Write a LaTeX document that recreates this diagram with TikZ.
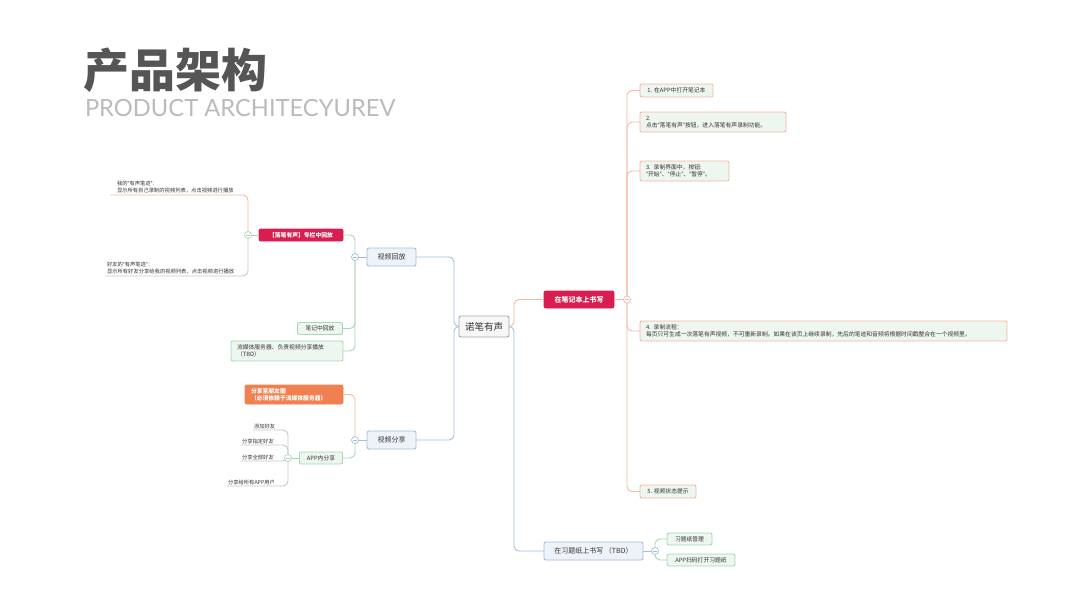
\documentclass[tikz,border=0pt]{standalone}
\usepackage{fontspec}
\setmainfont{Noto Sans CJK SC}
\newfontfamily\latofont{Lato}
\newcommand\qlq{{\latofont “}}
\newcommand\qrq{{\latofont ”}}
\definecolor{crim}{HTML}{D81E50}
\definecolor{orf}{HTML}{F0804F}
\definecolor{orl}{HTML}{F6B9A2}
\definecolor{grl}{HTML}{A9D7B4}
\definecolor{grf}{HTML}{EEF6F0}
\definecolor{bll}{HTML}{A4BEE0}
\definecolor{blf}{HTML}{EEF3FA}
\definecolor{gyl}{HTML}{C8C8C8}
\definecolor{txt}{HTML}{333333}
\definecolor{ttl}{HTML}{555555}
\definecolor{subt}{HTML}{BBBBBB}
\begin{document}
\begin{tikzpicture}[x=1pt,y=-1pt,
  every node/.style={inner sep=0pt, outer sep=0pt, text=txt},
  conn/.style={line width=0.9pt, rounded corners=5pt},
  box/.style={rounded corners=2pt, line width=0.9pt, align=left},
  fa/.style={font=\fontsize{5.8}{7.4}\selectfont},
  fb/.style={font=\fontsize{5.3}{7}\selectfont},
  fc/.style={font=\fontsize{7}{8}\selectfont},
  rc/.style={box, draw=orl, fill=grf, fa},
  gbox/.style={box, draw=grl, fill=grf, fa},
  bbox/.style={box, draw=bll, fill=blf, fc},
  crbox/.style={box, draw=crim, fill=crim, text=white},
  obox/.style={box, draw=orf, fill=orf, text=white, font=\fontsize{5.8}{7.4}\selectfont\bfseries},
  ul/.style={align=left, inner ysep=1.5pt},
  circ/.style={circle, fill=white, draw=#1, minimum size=7pt, line width=0.7pt,
    path picture={\draw[#1, line width=0.6pt] ([xshift=-2pt]path picture bounding box.center) -- ([xshift=2pt]path picture bounding box.center);}}
]
\useasboundingbox (0,0) rectangle (1067,600);
\fill[white] (0,0) rectangle (1067,600);

% title
\node[anchor=west, font=\fontsize{46}{46}\selectfont\bfseries, text=ttl] (title) at (83,70) {产品架构};
\node[anchor=west, font=\latofont\fontsize{23.7}{24}\selectfont, text=subt] (sub) at (85,108.5) {PRODUCT ARCHITECYUREV};

% main nodes
\node[box, draw=gray!70, fill=gray!6, minimum width=50, minimum height=21, font=\fontsize{9.5}{10}\selectfont] (c) at (484,326.5) {诺笔有声};
\node[bbox, minimum width=49, minimum height=18] (vh) at (391.5,257) {视频回放};
\node[bbox, minimum width=49, minimum height=18] (vs) at (391.5,440) {视频分享};
\node[crbox, minimum width=70, minimum height=17, font=\fontsize{7}{8}\selectfont\bfseries] (nb) at (579,299.5) {在笔记本上书写};
\node[bbox, minimum width=99, minimum height=18] (xt) at (593.5,551) {在习题纸上书写 （TBD）};

% right children
\node[rc, anchor=west, minimum width=73, minimum height=13] (r1) at (640,90.5) {1. 在APP中打开笔记本};
\node[rc, anchor=west, text width=134, inner xsep=6pt, minimum height=20] (r2) at (640,122) {2.\\点击\qlq 落笔有声\qrq 按钮，进入落笔有声录制功能。};
\node[rc, anchor=west, text width=77, inner xsep=6pt, minimum height=20] (r3) at (640,171) {3. 录制界面中，按钮:\\\qlq 开始\qrq 、\qlq 停止\qrq 、\qlq 暂停\qrq 。};
\node[rc, anchor=west, text width=355, inner xsep=6pt, minimum height=20] (r4) at (640,331) {4. 录制流程：\\每页只可生成一次落笔有声视频，不可重新录制。如果在该页上继续录制，先后的笔迹和音频将根据时间戳整合在一个视频里。};
\node[rc, anchor=west, minimum width=56, minimum height=13] (r5) at (640,491.5) {5. 视频状态提示};

\node[gbox, anchor=west, minimum width=45, minimum height=12] (x1) at (667,539) {习题纸管理};
\node[gbox, anchor=west, minimum width=68, minimum height=12] (x2) at (667,560) {APP扫码打开习题纸};

% left children
\node[crbox, minimum width=84, minimum height=12, font=\fontsize{5.8}{7}\selectfont\bfseries] (lp) at (301,235) {【落笔有声】专栏中回放};
\node[gbox, minimum width=45, minimum height=12] (bj) at (320,328.5) {笔记中回放};
\node[gbox, anchor=east, text width=100, inner xsep=6pt, minimum height=20] (lm) at (343,351) {流媒体服务器、负责视频分享播放\\（TBD）};
\node[obox, anchor=east, text width=86, inner xsep=6pt, minimum height=19] (py) at (343,394.5) {分享至朋友圈\\（必须依赖于流媒体服务器）};
\node[gbox, minimum width=43, minimum height=12] (ap) at (321,458) {APP内分享};

% underline topics
\node[ul, fb, anchor=south west, inner xsep=7pt] (t1) at (110,195) {我的\qlq 有声笔迹\qrq ：\\显示所有自己录制的视频列表，点击视频进行播放};
\node[ul, fb, anchor=south west, inner xsep=2pt] (t2) at (105,276) {好友的\qlq 有声笔迹\qrq ：\\显示所有好友分享给我的视频列表，点击视频进行播放};
\node[ul, fb, anchor=south west, inner xsep=1pt] (s1) at (253,430) {添加好友};
\node[ul, fb, anchor=south west, inner xsep=1pt] (s2) at (241,445) {分享指定好友};
\node[ul, fb, anchor=south west, inner xsep=1pt] (s3) at (241,461) {分享全部好友};
\node[ul, fb, anchor=south west, inner xsep=1pt] (s4) at (227,486) {分享给所有APP用户};

% junction coordinates
\coordinate (jl) at (454,326.5);
\coordinate (jr) at (514,326.5);
\coordinate (cnb) at (627,299.5);
\coordinate (cxt) at (655,551);
\coordinate (cvh) at (355,257);
\coordinate (cvs) at (355,440);
\coordinate (clp) at (248,235);
\coordinate (cap) at (288,458);

% connectors
\draw[conn, bll] (c.west) -- (jl) |- (vh.east);
\draw[conn, bll] (c.west) -- (jl) |- (vs.east);
\draw[conn, orl] (c.east) -- (jr) |- (nb.west);
\draw[conn, bll] (c.east) -- (jr) |- (xt.west);

\draw[conn, orl] (nb.east) -- (cnb);
\foreach \n in {r1,r2,r3,r4,r5} \draw[conn, orl] (cnb) |- (\n.west);

\draw[conn, bll] (xt.east) -- (cxt);
\draw[conn, grl] (cxt) |- (x1.west);
\draw[conn, grl] (cxt) |- (x2.west);

\draw[conn, bll] (vh.west) -- (cvh);
\draw[conn, grl] (cvh) |- (lp.east);
\draw[conn, grl] (cvh) |- (bj.east);
\draw[conn, grl] (cvh) |- (lm.east);

\draw[conn, bll] (vs.west) -- (cvs);
\draw[conn, orl] (cvs) |- (py.east);
\draw[conn, grl] (cvs) |- (ap.east);

\draw[conn, grl] (lp.west) -- (clp);
\draw[conn, orl] (clp) |- (t1.south west);
\draw[conn, gyl] (clp) |- (t2.south west);

\draw[conn, grl] (ap.west) -- (cap);
\foreach \n in {s1,s2,s3,s4} \draw[conn, gyl] (cap) |- (\n.south west);

% collapse circles
\node[circ=orl] (knb) at (cnb) {};
\node[circ=bll] (kxt) at (cxt) {};
\node[circ=bll] (kvh) at (cvh) {};
\node[circ=bll] (kvs) at (cvs) {};
\node[circ=grl] (klp) at (clp) {};
\node[circ=grl] (kap) at (cap) {};
\end{tikzpicture}
\end{document}
